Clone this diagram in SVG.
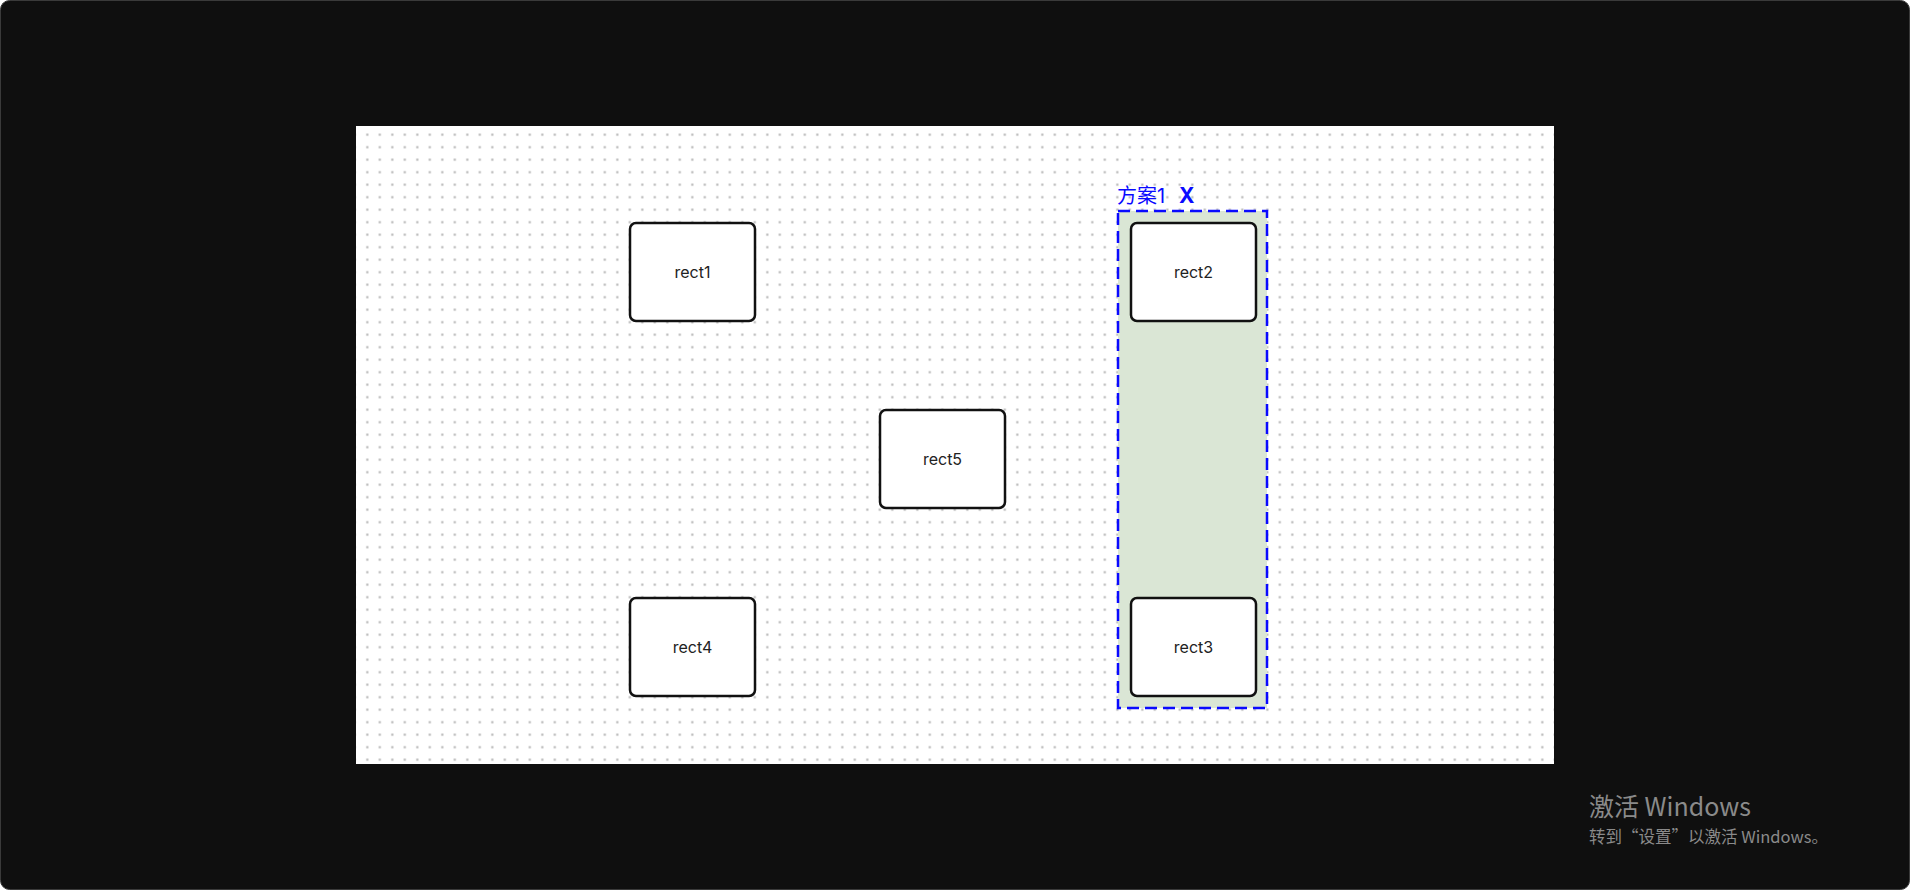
<svg xmlns="http://www.w3.org/2000/svg" width="1910" height="890" viewBox="0 0 1910 890">
  <defs>
    <pattern id="dots" patternUnits="userSpaceOnUse" x="361.05" y="128.45" width="12.5" height="12.5">
      <rect x="5.2" y="5.2" width="2.1" height="2.1" fill="#b4b4b4"/>
    </pattern>
    <style>
      .node rect { fill: #ffffff; stroke: #111111; stroke-width: 2.5; }
      .node text { font-family: Inter, "Liberation Sans", sans-serif; font-size: 16px; fill: #222222; text-anchor: middle; }
      .wm { font-family: "Noto Sans CJK SC", "Noto Sans", sans-serif; fill: #8a8a8a; }
    </style>
  </defs>
  <rect x="0" y="0" width="1910" height="890" fill="#ffffff"/>
  <rect x="0.5" y="0.5" width="1909" height="889" rx="9" fill="#0f0f0f" stroke="#3a3a3a" stroke-width="1"/>
  <rect x="356" y="126" width="1198" height="638" fill="#ffffff"/>
  <rect x="356" y="126" width="1198" height="638" fill="url(#dots)"/>

  <g id="group-fangan1">
    <rect x="1118" y="211" width="149" height="497" fill="#dae6d5" stroke="#0a0aff" stroke-width="2.5" stroke-dasharray="12 6"/>
    <text x="1117" y="203" font-family="Inter, 'Noto Sans CJK SC', sans-serif" font-size="20" fill="#0a0aff">方案1</text>
    <text x="1179" y="203" font-family="Inter, 'Liberation Sans', sans-serif" font-size="21" font-weight="bold" fill="#0a0aff">X</text>
  </g>

  <g id="connectors"></g>

  <g id="rect1" class="node">
    <rect x="630" y="223" width="125" height="98" rx="6"/>
    <text x="692.5" y="277.5">rect1</text>
  </g>
  <g id="rect2" class="node">
    <rect x="1131" y="223" width="125" height="98" rx="6"/>
    <text x="1193.5" y="277.5">rect2</text>
  </g>
  <g id="rect5" class="node">
    <rect x="880" y="410" width="125" height="98" rx="6"/>
    <text x="942.5" y="464.5">rect5</text>
  </g>
  <g id="rect4" class="node">
    <rect x="630" y="598" width="125" height="98" rx="6"/>
    <text x="692.5" y="652.5">rect4</text>
  </g>
  <g id="rect3" class="node">
    <rect x="1131" y="598" width="125" height="98" rx="6"/>
    <text x="1193.5" y="652.5">rect3</text>
  </g>

  <text class="wm" x="1589" y="816" font-size="25">激活 Windows</text>
  <text class="wm" x="1589" y="843" font-size="16.5">转到“设置”以激活 Windows。</text>
</svg>
